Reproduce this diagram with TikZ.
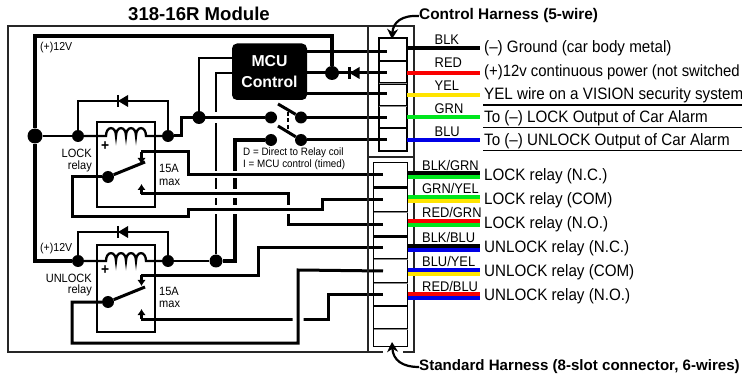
\documentclass[tikz,border=0pt]{standalone}
\usepackage{fontspec}
\setmainfont[FakeStretch=0.92]{Liberation Sans}
\newfontfamily\headfont{Liberation Sans}
\usetikzlibrary{arrows.meta}
\pgfdeclarelayer{wires}
\pgfsetlayers{wires,main}
\definecolor{wblack}{RGB}{0,0,0}
\definecolor{wred}{RGB}{250,0,0}
\definecolor{wyel}{RGB}{255,228,0}
\definecolor{wgrn}{RGB}{0,230,30}
\definecolor{wblu}{RGB}{0,0,230}
\tikzset{
	wire/.style = {line width = 3},
	coilwire/.style = {line width = 2.3},
	slimwire/.style = {line width = 1.7},
	fatwire/.style = {line width = 3.6},
	halo/.style = {preaction = {draw, white, line width = #1}},
	lead/.style = {line width = 4, draw = #1},
	frameline/.style = {line width = 1.4, black!85},
	relaybox/.style = {line width = 1.8},
	slotbig/.style = {line width = 2.8},
	slotthin/.style = {line width = 1, double = black!45, double distance = 0.9},
	rulewire/.style = {line width = 1.7},
	jdot/.style = {circle, fill, inner sep = 0, minimum size = #1},
	txtl/.style = {inner sep = 0, anchor = west, font = \fontsize{#1}{#1}\selectfont},
	txtr/.style = {inner sep = 0, anchor = east, font = \fontsize{#1}{#1}\selectfont},
	outlabel/.style = {inner ysep = 0, inner xsep = 4, anchor = west, font = \fontsize{16.5}{16.5}\selectfont},
	headtxt/.style = {inner sep = 0, anchor = west, font = \headfont\bfseries\fontsize{#1}{#1}\selectfont},
	relaytip/.style = {-{Latex[length = 6, width = 8.5]}, line width = 2.6},
	pointer/.style = {-{Stealth[length = 10, width = 11]}, line width = 2.2},
	diodeleft/.pic = {
		\fill (-5, 0) -- (5, -6) -- (5, 6) -- cycle;
		\draw[line width = 2.2] (-5, -6) -- (-5, 6);
	}
}
\begin{document}
\begin{tikzpicture}[x = 1pt, y = -1pt]
	\useasboundingbox (0, 0) rectangle (742, 382);
	% module outline
	\coordinate (fnw) at (8, 26); \coordinate (fne) at (414, 26);
	\coordinate (fsw) at (8, 352); \coordinate (fse) at (414, 352);
	\coordinate (gapa) at (383, 352); \coordinate (gapb) at (403, 352);
	\draw[frameline] (gapa) -- (fsw) -- (fnw) -- (fne) -- (fse) -- (gapb);
	\draw[frameline] (368, 26) -- (368, 352);
	\draw[frameline] (368, 157) -- (414, 157);

	% pins of both connectors
	\coordinate (pinblk) at (387, 52); \coordinate (pinred) at (387, 73);
	\coordinate (pinyel) at (387, 94); \coordinate (pingrn) at (387, 117.5);
	\coordinate (pinblu) at (387, 140);
	\coordinate (pina) at (383, 175); \coordinate (pinb) at (383, 200);
	\coordinate (pinc) at (383, 225); \coordinate (pind) at (383, 248);
	\coordinate (pine) at (383, 271); \coordinate (pinf) at (383, 295);

	% junctions
	\node[jdot = 15] (jbat) at (35, 136) {};
	\node[jdot = 12] (jla) at (78, 136) {};
	\node[jdot = 12] (jlb) at (168, 136) {};
	\node[jdot = 13] (jfeed) at (199, 117.5) {};
	\node[jdot = 14] (jpow) at (332, 73) {};
	\node[jdot = 12] (jua) at (78, 261) {};
	\node[jdot = 12] (jub) at (168, 261) {};
	\node[jdot = 13] (jun) at (216, 261) {};
	\node[jdot = 12] (swa) at (271, 117.5) {};
	\node[jdot = 12] (swb) at (301, 117.5) {};
	\node[jdot = 12] (swc) at (271, 140) {};
	\node[jdot = 12] (swd) at (301, 140) {};
	\node[jdot = 12] (comla) at (108, 177) {};
	\node[jdot = 12] (comun) at (108, 302) {};

	% MCU block
	\node[fill, rounded corners = 5, inner sep = 0, minimum width = 75, minimum height = 56.5] (mcu) at (269.5, 71.75) {};
	\node[headtxt = 15.8, anchor = center, white] (mcua) at (269.5, 61) {MCU};
	\node[headtxt = 15.8, anchor = center, white] (mcub) at (269.5, 82) {Control};

	\begin{pgfonlayer}{wires}
	% lines that the others cross
	\draw[slimwire] (mcu.west |- 0, 73) -| (jun);
	\draw[fatwire] (swc) -| (235, 261) -- (jun);
	\draw[wire, halo = 7] (141, 152) -- (188, 152) |- (pina);

	% wires over them
	\draw[wire, halo = 11] (jlb) -- (181, 136) |- (swa);
	\draw[slimwire] (jfeed) |- (mcu.west |- 0, 58);
	\draw[wire, halo = 9] (141, 194) -- (288, 194) -- (288, 225) -- (pinc);
	\draw[wire, halo = 9] (comla) -| (72, 217) -| (188, 210) -| (322, 200) -- (pinb);
	\draw[wire] (141, 319) -- (328, 319) |- (pinf);
	\draw[wire] (141, 276) -- (258, 276) |- (pind);
	\draw[wire, halo = 11] (comun) -| (72, 343) -| (298, 270) -- (pine);

	% feed from the (+)12V line
	\draw[fatwire] (jpow) |- (35, 36) -- (jbat);
	\draw[fatwire] (jbat) -- (35, 261) -- (jua);
	\draw[coilwire] (jbat) -- (jla);
	\draw[coilwire] (jla) -- (106, 136) .. controls +(0, -10.5) and +(0, -10.5) .. ++(10, 0) .. controls +(0, -10.5) and +(0, -10.5) .. ++(10, 0) .. controls +(0, -10.5) and +(0, -10.5) .. ++(10, 0) .. controls +(0, -10.5) and +(0, -10.5) .. ++(10, 0) -- (jlb);
	\draw[coilwire] (jua) -- (106, 261) .. controls +(0, -10.5) and +(0, -10.5) .. ++(10, 0) .. controls +(0, -10.5) and +(0, -10.5) .. ++(10, 0) .. controls +(0, -10.5) and +(0, -10.5) .. ++(10, 0) .. controls +(0, -10.5) and +(0, -10.5) .. ++(10, 0) -- (jub);
	\draw[coilwire] (jub) -- (jun);
	\draw[coilwire] (jla) |- (168, 101) -- (jlb);
	\draw[coilwire] (jua) |- (168, 232) -- (jub);

	% MCU to harness
	\draw[wire] (mcu.east |- pinblk) -- (pinblk);
	\draw[wire] (mcu.east |- jpow) -- (pinred);
	\draw[wire] (mcu.east |- pinyel) -- (pinyel);
	\draw[wire] (swb) -- (pingrn);
	\draw[wire] (swd) -- (pinblu);
	\end{pgfonlayer}

	\pic at (123, 101) {diodeleft};
	\pic at (123, 232) {diodeleft};
	\pic at (354.5, 73) {diodeleft};

	% relays
	\draw[relaybox] (97, 122) rectangle (155, 207);
	\draw[relaybox] (97, 245) rectangle (155, 332);
	\node[txtl = 15] (pluslock) at (101, 146) {\textbf{+}};
	\node[txtl = 15] (plusunl) at (101, 270) {\textbf{+}};
	\draw[wire] (comla) -- (145, 162);
	\draw[wire] (comun) -- (145, 287);
	\draw[relaytip] (141.5, 152) -- (141.5, 164);
	\draw[relaytip] (141.5, 194) -- (141.5, 184);
	\draw[relaytip] (141.5, 275) -- (141.5, 286);
	\draw[relaytip] (141.5, 319) -- (141.5, 309);

	% switch
	\draw[wire] (278, 104) -- (swb);
	\draw[wire] (278, 126) -- (swd);
	\draw[line width = 1.5, dash pattern = on 4 off 2.5] (288, 112) -- (288, 133);

	% connectors
	\draw[line width = 1.8] (379, 38) rectangle (407, 151);
	\draw[line width = 1.8] (373.5, 162.5) rectangle (407.5, 346.5);
	\draw[slotbig] (379, 61) -- (407, 61);
	\draw[slotthin] (379, 83.5) -- (407, 83.5);
	\draw[slotthin] (379, 106) -- (407, 106);
	\draw[slotbig] (379, 128) -- (407, 128);
	\draw[slotbig] (373.5, 187.5) -- (407.5, 187.5);
	\draw[slotthin] (373.5, 212) -- (407.5, 212);
	\draw[slotbig] (373.5, 236.5) -- (407.5, 236.5);
	\draw[slotthin] (373.5, 259) -- (407.5, 259);
	\draw[slotthin] (373.5, 283) -- (407.5, 283);
	\draw[slotbig] (373.5, 306) -- (407.5, 306);
	\draw[slotthin] (373.5, 329) -- (407.5, 329);

	% titles and harness pointers
	\node[headtxt = 18.6] (title) at (128, 14) {318-16R Module};
	\node[headtxt = 15.4] (ctltitle) at (419, 16) {Control Harness (5-wire)};
	\node[headtxt = 15.1] (stdtitle) at (419, 367) {Standard Harness (8-slot connector, 6-wires)};
	\draw[pointer] (ctltitle.west) .. controls (402, 15) and (393, 22) .. (392, 39);
	\draw[pointer] (stdtitle.west) .. controls (402, 367) and (393, 360) .. (392, 342);

	% inner texts
	\node[txtl = 11.5] (plusa) at (40, 48) {(+)12V};
	\node[txtl = 11.5] (plusb) at (40, 249) {(+)12V};
	\node[txtr = 12] (locka) at (92, 153) {LOCK};
	\node[txtr = 12] (lockb) at (92, 166) {relay};
	\node[txtr = 12] (unla) at (92, 278) {UNLOCK};
	\node[txtr = 12] (unlb) at (92, 290.5) {relay};
	\node[txtl = 12] (ampa) at (159, 168) {15A};
	\node[txtl = 12] (ampb) at (159, 182) {max};
	\node[txtl = 12] (ampc) at (159, 291) {15A};
	\node[txtl = 12] (ampd) at (159, 304) {max};
	\node[txtl = 10.7] (notea) at (243, 153) {D = Direct to Relay coil};
	\node[txtl = 10.7] (noteb) at (243, 165) {I = MCU control (timed)};

	% control harness
	\node[outlabel] (ougnd) at (480, 48) {(--) Ground (car body metal)};
	\node[outlabel, font = \fontsize{16.2}{16.2}\selectfont] (oupwr) at (480, 72) {(+)12v continuous power (not switched};
	\node[outlabel] (ouyel) at (480, 95) {YEL wire on a VISION security system};
	\node[outlabel] (oulock) at (480, 118) {To (--) LOCK Output of Car Alarm};
	\node[outlabel] (ouunl) at (480, 141) {To (--) UNLOCK Output of Car Alarm};
	\coordinate (ca) at (407, 48.5); \coordinate (cb) at (407, 73);
	\coordinate (cc) at (407, 95); \coordinate (cd) at (407, 117.5);
	\coordinate (ce) at (407, 140);
	\draw[lead = wblack] (ca) -- (ca -| ougnd.west);
	\draw[lead = wred] (cb) -- (cb -| oupwr.west);
	\draw[lead = wyel] (cc) -- (cc -| ouyel.west);
	\draw[lead = wgrn] (cd) -- (cd -| oulock.west);
	\draw[lead = wblu] (ce) -- (ce -| ouunl.west);
	\node[txtl = 14] (lbla) at (434.5, 40) {BLK};
	\node[txtl = 14] (lblb) at (434.5, 63) {RED};
	\node[txtl = 14] (lblc) at (434.5, 86) {YEL};
	\node[txtl = 14] (lbld) at (434.5, 108.5) {GRN};
	\node[txtl = 14] (lble) at (434.5, 131.5) {BLU};
	\coordinate (ruend) at (742, 0);
	\draw[rulewire] (483, 105) -- (ruend |- 0, 105);
	\draw[rulewire] (483, 127.5) -- (ruend |- 0, 127.5);
	\draw[rulewire] (483, 150.5) -- (ruend |- 0, 150.5);

	% standard harness
	\node[outlabel] (ouna) at (480, 176) {LOCK relay (N.C.)};
	\node[outlabel] (ounb) at (480, 200) {LOCK relay (COM)};
	\node[outlabel] (ounc) at (480, 224) {LOCK relay (N.O.)};
	\node[outlabel] (ound) at (480, 248) {UNLOCK relay (N.C.)};
	\node[outlabel] (oune) at (480, 272) {UNLOCK relay (COM)};
	\node[outlabel] (ounf) at (480, 296) {UNLOCK relay (N.O.)};
	\coordinate (sa) at (407.5, 173.5); \coordinate (sb) at (407.5, 177.5);
	\coordinate (sc) at (407.5, 197.5); \coordinate (sd) at (407.5, 201.5);
	\coordinate (se) at (407.5, 221.5); \coordinate (sf) at (407.5, 225.5);
	\coordinate (sg) at (407.5, 246); \coordinate (sh) at (407.5, 250);
	\coordinate (si) at (407.5, 270); \coordinate (sj) at (407.5, 274);
	\coordinate (sk) at (407.5, 294); \coordinate (sl) at (407.5, 298);
	\draw[lead = wblack] (sa) -- (sa -| ouna.west);
	\draw[lead = wgrn] (sb) -- (sb -| ouna.west);
	\draw[lead = wgrn] (sc) -- (sc -| ounb.west);
	\draw[lead = wyel] (sd) -- (sd -| ounb.west);
	\draw[lead = wred] (se) -- (se -| ounc.west);
	\draw[lead = wgrn] (sf) -- (sf -| ounc.west);
	\draw[lead = wblack] (sg) -- (sg -| ound.west);
	\draw[lead = wblu] (sh) -- (sh -| ound.west);
	\draw[lead = wblu] (si) -- (si -| oune.west);
	\draw[lead = wyel] (sj) -- (sj -| oune.west);
	\draw[lead = wred] (sk) -- (sk -| ounf.west);
	\draw[lead = wblu] (sl) -- (sl -| ounf.west);
	\node[txtl = 14] (lbna) at (422, 165) {BLK/GRN};
	\node[txtl = 14] (lbnb) at (422, 188.5) {GRN/YEL};
	\node[txtl = 14] (lbnc) at (422, 212) {RED/GRN};
	\node[txtl = 14] (lbnd) at (422, 237) {BLK/BLU};
	\node[txtl = 14] (lbne) at (422, 261.5) {BLU/YEL};
	\node[txtl = 14] (lbnf) at (422, 286) {RED/BLU};
\end{tikzpicture}
\end{document}
